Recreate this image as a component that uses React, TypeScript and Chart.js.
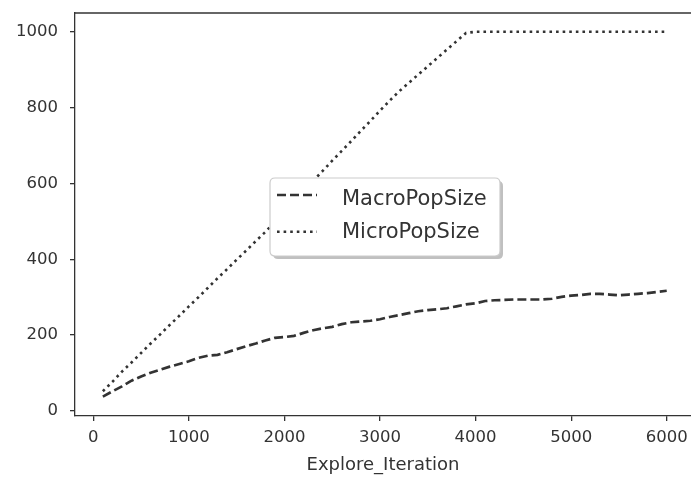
import React, { useEffect, useRef } from "react";
import { Chart, registerables } from "chart.js";

Chart.register(...registerables);

const iterations = [
  100, 200, 300, 400, 500, 600, 700, 800, 900, 1000,
  1100, 1200, 1300, 1400, 1500, 1600, 1700, 1800, 1900, 2000,
  2100, 2200, 2300, 2400, 2500, 2600, 2700, 2800, 2900, 3000,
  3100, 3200, 3300, 3400, 3500, 3600, 3700, 3800, 3900, 4000,
  4100, 4200, 4300, 4400, 4500, 4600, 4700, 4800, 4900, 5000,
  5100, 5200, 5300, 5400, 5500, 5600, 5700, 5800, 5900, 6000,
];

const macroPopSize = [
  38, 52, 65, 80, 91, 101, 109, 117, 124, 131,
  140, 146, 148, 155, 163, 171, 178, 186, 193, 195,
  198, 206, 213, 218, 222, 229, 234, 236, 238, 242,
  248, 253, 258, 263, 266, 268, 271, 276, 281, 284,
  290, 292, 293, 294, 294, 294, 294, 296, 301, 304,
  306, 309, 309, 307, 305, 307, 309, 311, 314, 317,
];

const microPopSize = [
  52, 77, 104, 128, 153, 178, 202, 227, 251, 276,
  300, 325, 350, 374, 399, 423, 448, 472, 499, 526,
  553, 580, 607, 633, 660, 686, 712, 739, 765, 792,
  818, 843, 865, 887, 909, 931, 953, 975, 997, 1000,
  1000, 1000, 1000, 1000, 1000, 1000, 1000, 1000, 1000, 1000,
  1000, 1000, 1000, 1000, 1000, 1000, 1000, 1000, 1000, 1000,
];

const xTickValues = [0, 1000, 2000, 3000, 4000, 5000, 6000];
const yTickValues = [0, 200, 400, 600, 800, 1000];
const seriesLabels = ["MacroPopSize", "MicroPopSize"];
const xAxisTitle = "Explore_Iteration";

const INK = "#333333";
const FONT = "'DejaVu Sans', sans-serif";

function roundRectPath(ctx: CanvasRenderingContext2D, x: number, y: number, w: number, h: number, r: number) {
  ctx.beginPath();
  ctx.moveTo(x + r, y);
  ctx.lineTo(x + w - r, y);
  ctx.quadraticCurveTo(x + w, y, x + w, y + r);
  ctx.lineTo(x + w, y + h - r);
  ctx.quadraticCurveTo(x + w, y + h, x + w - r, y + h);
  ctx.lineTo(x + r, y + h);
  ctx.quadraticCurveTo(x, y + h, x, y + h - r);
  ctx.lineTo(x, y + r);
  ctx.quadraticCurveTo(x, y, x + r, y);
  ctx.closePath();
}

const framePlugin = {
  id: "topFrame",
  afterDraw(chart: any) {
    const { ctx, chartArea } = chart;
    ctx.save();
    ctx.strokeStyle = INK;
    ctx.lineWidth = 1.3;
    ctx.beginPath();
    ctx.moveTo(chartArea.left - 0.65, chartArea.top);
    ctx.lineTo(chartArea.right, chartArea.top);
    ctx.stroke();
    ctx.restore();
  },
};

const boxLegendPlugin = {
  id: "boxLegend",
  afterDatasetsDraw(chart: any, _args: any, opts: any) {
    const { ctx } = chart;
    const { x, y, w, h, r } = opts;
    ctx.save();
    ctx.fillStyle = "rgba(140,140,140,0.55)";
    roundRectPath(ctx, x + 3, y + 3, w, h, r);
    ctx.fill();
    ctx.fillStyle = "#ffffff";
    roundRectPath(ctx, x, y, w, h, r);
    ctx.fill();
    ctx.strokeStyle = "#cccccc";
    ctx.lineWidth = 1.2;
    ctx.stroke();
    chart.data.datasets.forEach((ds: any, i: number) => {
      const ly = y + opts.lineY[i];
      ctx.setLineDash(ds.borderDash || []);
      ctx.lineWidth = ds.borderWidth;
      ctx.strokeStyle = ds.borderColor;
      ctx.lineCap = "butt";
      ctx.beginPath();
      ctx.moveTo(x + opts.sampleX0, ly);
      ctx.lineTo(x + opts.sampleX1, ly);
      ctx.stroke();
      ctx.setLineDash([]);
      ctx.fillStyle = INK;
      ctx.font = `${opts.fontSize}px ${FONT}`;
      ctx.textBaseline = "alphabetic";
      ctx.textAlign = "left";
      ctx.fillText(ds.label, x + opts.textX, y + opts.baseY[i]);
    });
    ctx.restore();
  },
};

export default function App() {
  const canvasRef = useRef<HTMLCanvasElement | null>(null);

  useEffect(() => {
    if (!canvasRef.current) return;
    const macroData = iterations.map((it, i) => ({ x: it, y: macroPopSize[i] }));
    const microData = iterations.map((it, i) => ({ x: it, y: microPopSize[i] }));

    const chart = new Chart(canvasRef.current, {
      type: "line",
      data: {
        datasets: [
          {
            label: seriesLabels[0],
            data: macroData,
            borderColor: INK,
            borderWidth: 2.7,
            borderDash: [9, 4],
            borderCapStyle: "butt",
            pointRadius: 0,
            tension: 0,
            fill: false,
          },
          {
            label: seriesLabels[1],
            data: microData,
            borderColor: INK,
            borderWidth: 2.6,
            borderDash: [2.6, 4],
            borderCapStyle: "butt",
            pointRadius: 0,
            tension: 0,
            fill: false,
          },
        ],
      },
      options: {
        animation: false,
        responsive: false,
        layout: { padding: { left: 0, top: 13, right: 0, bottom: 0 } },
        plugins: {
          legend: { display: false },
          tooltip: { enabled: false },
          boxLegend: {
            x: 270,
            y: 178,
            w: 230,
            h: 78,
            r: 5,
            sampleX0: 7,
            sampleX1: 47,
            textX: 72,
            lineY: [17, 53.7],
            baseY: [27, 60.3],
            fontSize: 21,
          },
        } as any,
        scales: {
          x: {
            type: "linear",
            min: -191.5,
            max: 6254,
            afterFit: (scale: any) => {
              scale.height = 61;
              scale.paddingLeft = 0;
              scale.paddingRight = 0;
            },
            afterBuildTicks: (scale: any) => {
              scale.ticks = xTickValues.map((v) => ({ value: v }));
            },
            ticks: {
              includeBounds: false,
              color: INK,
              font: { family: FONT, size: 16.5 },
              padding: 7,
              maxRotation: 0,
              autoSkip: false,
              callback: (v: any) => String(v),
            },
            grid: {
              display: true,
              drawOnChartArea: false,
              drawTicks: true,
              tickLength: 5,
              color: INK,
              lineWidth: 1.3,
            },
            border: { display: true, color: INK, width: 1.3 },
            title: {
              display: true,
              text: xAxisTitle,
              color: INK,
              font: { family: FONT, size: 18 },
              padding: { top: 0, bottom: 1 },
            },
          },
          y: {
            type: "linear",
            min: -13.2,
            max: 1049.5,
            afterFit: (scale: any) => {
              scale.width = 75;
              scale.paddingTop = 0;
              scale.paddingBottom = 0;
            },
            afterBuildTicks: (scale: any) => {
              scale.ticks = yTickValues.map((v) => ({ value: v }));
            },
            ticks: {
              includeBounds: false,
              color: INK,
              font: { family: FONT, size: 16.5 },
              padding: 12,
              autoSkip: false,
              callback: (v: any) => String(v),
            },
            grid: {
              display: true,
              drawOnChartArea: false,
              drawTicks: true,
              tickLength: 5,
              color: INK,
              lineWidth: 1.3,
            },
            border: { display: true, color: INK, width: 1.3 },
          },
        },
      },
      plugins: [framePlugin, boxLegendPlugin],
    } as any);

    return () => {
      chart.destroy();
    };
  }, []);

  return (
    <div style={{ position: "absolute", left: 0, top: 0, width: 691, height: 477, background: "#ffffff" }}>
      <canvas ref={canvasRef} width={691} height={477} style={{ display: "block" }} />
    </div>
  );
}
